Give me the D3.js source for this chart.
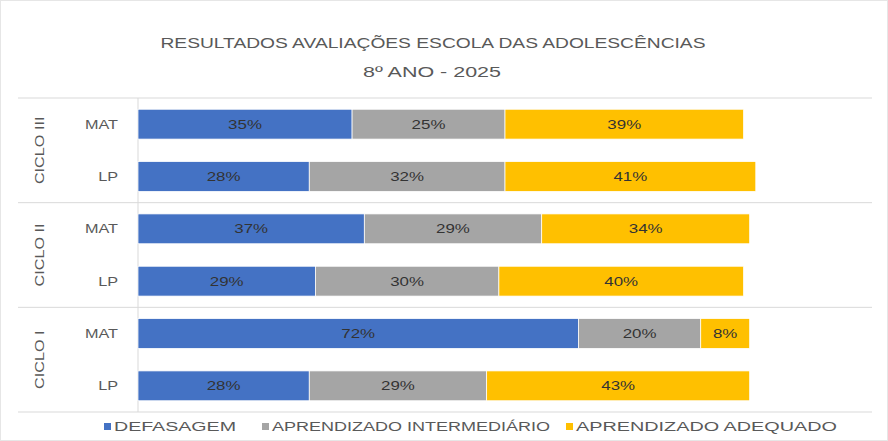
<!DOCTYPE html>
<html><head><meta charset="utf-8">
<script src="https://cdn.jsdelivr.net/npm/d3@7"></script>
<style>body{margin:0;background:#fff}svg{display:block;font-family:"Liberation Sans",Arial,sans-serif}</style>
</head><body>
<svg id="c" width="888" height="441"></svg>
<script>
const groups = ["CICLO III","CICLO II","CICLO I"];
const subjects = ["MAT","LP"];
const seriesNames = ["DEFASAGEM","APRENDIZADO INTERMEDIÁRIO","APRENDIZADO ADEQUADO"];
const defasagem =     [0.35,0.28,0.37,0.29,0.72,0.28];
const intermediario = [0.25,0.32,0.29,0.30,0.20,0.29];
const adequado =      [0.39,0.41,0.34,0.40,0.08,0.43];
const colors = ["#4472C4","#A5A5A5","#FFC000"];

const rows = [];
groups.forEach((g,gi)=>subjects.forEach((s,si)=>rows.push({g, s, key:g+"|"+s, i:gi*2+si})));
const series = [defasagem, intermediario, adequado];

const svg = d3.select("#c");
svg.append("rect").attr("x",0.5).attr("y",0.5).attr("width",887).attr("height",440).attr("fill","#fff").attr("stroke","#e6e6e6");

const x = d3.scaleLinear().domain([0,1.2]).range([138,872]);
const y = d3.scaleBand().domain(rows.map(r=>r.key)).range([98,412]).paddingInner(0.43).paddingOuter(0.215);

function stretch(sel, f){ sel.each(function(){ const w=this.getComputedTextLength(); d3.select(this).attr("textLength",w*f).attr("lengthAdjust","spacingAndGlyphs"); }); }

// title
svg.append("text").attr("x",433).attr("y",48).attr("text-anchor","middle").attr("fill","#595959")
  .attr("font-size",14).attr("textLength",545).attr("lengthAdjust","spacingAndGlyphs").text("RESULTADOS AVALIAÇÕES ESCOLA DAS ADOLESCÊNCIAS");
svg.append("text").attr("x",432).attr("y",77).attr("text-anchor","middle").attr("fill","#595959")
  .attr("font-size",14).attr("textLength",138).attr("lengthAdjust","spacingAndGlyphs").text("8º ANO - 2025");

// group separators
const grpBounds = [0,1,2,3].map(k=>98 + k*2*((412-98)/6));
grpBounds.forEach(b=>{
  svg.append("line").attr("x1",18).attr("x2",872).attr("y1",b).attr("y2",b).attr("stroke","#d9d9d9").attr("stroke-width",1);
});
svg.append("line").attr("x1",138).attr("x2",138).attr("y1",98).attr("y2",412).attr("stroke","#d9d9d9");

// stacked bars
const stackData = rows.map(r=>{ let acc=0; return series.map((arr,k)=>{const v=arr[r.i]; const o={r,k,v,x0:acc,x1:acc+v}; acc+=v; return o;}); }).flat();
svg.append("g").selectAll("rect").data(stackData).join("rect")
  .attr("x",d=>x(d.x0)).attr("width",d=>x(d.x1)-x(d.x0))
  .attr("y",d=>y(d.r.key)).attr("height",y.bandwidth())
  .attr("fill",d=>colors[d.k]).attr("stroke","#fff").attr("stroke-width",0.75);
const lbl = svg.append("g").selectAll("text").data(stackData).join("text")
  .attr("x",d=>(x(d.x0)+x(d.x1))/2).attr("y",d=>y(d.r.key)+y.bandwidth()/2+4.5)
  .attr("text-anchor","middle").attr("font-size",13).attr("fill","#333")
  .text(d=>d3.format(".0%")(d.v));
stretch(lbl,1.3);

// subject labels
const sl = svg.append("g").selectAll("text").data(rows).join("text")
  .attr("x",118).attr("y",r=>y(r.key)+y.bandwidth()/2+4.5).attr("text-anchor","end")
  .attr("font-size",12).attr("fill","#595959").text(r=>r.s);
stretch(sl,1.35);

// group labels rotated
groups.forEach((g,gi)=>{
  const cy = (grpBounds[gi]+grpBounds[gi+1])/2;
  const t = svg.append("text").attr("transform",`translate(44,${cy}) rotate(-90)`).attr("text-anchor","middle")
    .attr("font-size",12).attr("fill","#595959").text(g);
  stretch(t,1.35);
});

// legend
const legX = [104,262,566];
const legW = [122,278,261];
seriesNames.forEach((n,k)=>{
  svg.append("rect").attr("x",legX[k]).attr("y",423).attr("width",7).attr("height",7).attr("fill",colors[k]);
  svg.append("text").attr("x",legX[k]+10).attr("y",431).attr("font-size",12).attr("fill","#595959")
    .attr("textLength",legW[k]).attr("lengthAdjust","spacingAndGlyphs").text(n);
});
</script>
</body></html>
